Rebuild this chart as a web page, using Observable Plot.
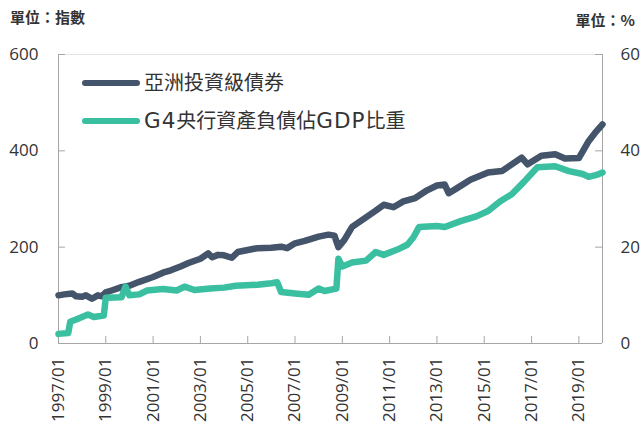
<!DOCTYPE html>
<html><head><meta charset="utf-8">
<script src="https://cdn.jsdelivr.net/npm/d3@7"></script>
<script src="https://cdn.jsdelivr.net/npm/@observablehq/plot@0.6"></script>
<style>
body{margin:0;background:#fff;font-family:"Open Sans","Noto Sans CJK TC",sans-serif;}
#wrap{position:relative;width:644px;height:430px;}
.unit{position:absolute;font-size:15px;font-weight:bold;color:#333;font-family:"Noto Sans CJK TC","Open Sans",sans-serif;line-height:1;}
.leg{position:absolute;left:82px;display:flex;align-items:center;font-size:20px;color:#333;line-height:1;font-family:"DejaVu Sans","Noto Sans CJK TC",sans-serif;}
.leg .lat{font-size:21.5px;letter-spacing:1px;}
.sw{width:58px;height:6px;border-radius:3px;margin-right:4px;}
</style></head>
<body><div id="wrap"></div>
<script>
// 亞洲投資級債券 (指數, 左軸)
const bondDates = ["1997-01","1997-04","1997-08","1997-10","1998-01","1998-03","1998-06","1998-09","1998-11","1999-01","1999-04","1999-09","2000-01","2000-06","2001-01","2001-06","2001-10","2002-03","2002-07","2003-01","2003-05","2003-07","2003-10","2004-01","2004-05","2004-08","2005-01","2005-06","2006-01","2006-06","2006-09","2007-01","2007-06","2008-01","2008-06","2008-09","2008-11","2009-02","2009-06","2010-01","2010-06","2010-10","2011-03","2011-08","2012-02","2012-08","2013-01","2013-05","2013-07","2013-11","2014-06","2015-03","2015-10","2016-03","2016-08","2016-11","2017-06","2018-01","2018-06","2019-01","2019-06","2019-09","2020-01"];
const bondValues = [100,102,104,98,97,100,93,100,98,106,110,117,120,128,138,147,152,160,167,176,187,179,184,183,178,190,194,198,199,201,198,208,213,222,226,224,200,215,242,262,276,288,283,295,302,318,328,330,312,322,340,355,358,372,386,372,390,393,384,385,420,436,455];
// G4央行資產負債佔GDP比重 (%, 右軸)
const ratioDates = ["1997-01","1997-06","1997-07","1997-10","1998-04","1998-07","1998-12","1999-01","1999-09","1999-11","2000-01","2000-06","2000-10","2001-06","2002-01","2002-05","2002-10","2003-06","2004-01","2004-07","2005-06","2006-01","2006-04","2006-06","2007-01","2007-08","2008-01","2008-04","2008-10","2008-11","2009-01","2009-06","2010-01","2010-06","2010-10","2011-05","2011-10","2012-01","2012-04","2013-01","2013-05","2014-01","2014-09","2015-03","2015-09","2016-03","2016-09","2017-04","2018-01","2018-08","2019-03","2019-06","2019-10","2020-01"];
const ratioValues = [2.0,2.2,4.5,5.0,6.0,5.5,5.8,9.5,9.6,11.8,10.0,10.2,11.0,11.3,11.0,11.8,11.1,11.4,11.6,12.0,12.2,12.5,12.7,10.7,10.4,10.1,11.4,10.9,11.4,17.6,16.0,16.8,17.2,19.0,18.4,19.5,20.5,22.0,24.2,24.4,24.2,25.4,26.4,27.5,29.5,31.0,33.5,36.6,36.8,35.8,35.2,34.6,35.0,35.5];
const leftTicks = [0,200,400,600];
const rightTicks = [0,20,40,60];
const xTickLabels = ["1997/01","1999/01","2001/01","2003/01","2005/01","2007/01","2009/01","2011/01","2013/01","2015/01","2017/01","2019/01"];
const xStart = "1997-01", xEnd = "2020-01";

const parse = d3.utcParse("%Y-%m");
const parseTick = d3.utcParse("%Y/%m");
const bond = bondDates.map((d,i)=>({date:parse(d), v:bondValues[i]}));
const ratio = ratioDates.map((d,i)=>({date:parse(d), v:ratioValues[i]}));
const xTicks = xTickLabels.map(parseTick);

const W=644,H=430,mt=54,mr=42,mb=87,ml=58;
const pw=W-ml-mr, ph=H-mt-mb;
const axisGray="#a6a6a6";

const chart = Plot.plot({
  width:W, height:H, marginTop:mt, marginRight:mr, marginBottom:mb, marginLeft:ml,
  style:{fontFamily:"'Open Sans','Noto Sans CJK TC',sans-serif", fontSize:"17px", color:"#333", background:"#fff"},
  x:{type:"utc", domain:[parse(xStart), parse(xEnd)]},
  y:{domain:[0,600]},
  marks:[
    Plot.ruleY([600],{stroke:"#e4e4e4"}),
    Plot.ruleY([0],{stroke:axisGray}),
    Plot.ruleX([parse(xStart), parse(xEnd)],{stroke:axisGray}),
    Plot.tickY(leftTicks,{y:d=>d, stroke:axisGray, insetRight:pw-7}),
    Plot.tickY(rightTicks.map(v=>v*10),{y:d=>d, stroke:axisGray, insetLeft:pw-7}),
    Plot.tickX(xTicks,{x:d=>d, stroke:axisGray, insetTop:ph-7}),
    Plot.axisY({anchor:"left", ticks:leftTicks, tickSize:0, tickPadding:20, label:null}),
    Plot.axisY({anchor:"right", ticks:rightTicks.map(v=>v*10), tickFormat:d=>d/10, tickSize:0, tickPadding:18, label:null}),
    Plot.axisX({ticks:xTicks, tickFormat:d3.utcFormat("%Y/%m"), tickRotate:-90, tickSize:0, tickPadding:14, label:null}),
    Plot.line(bond,{x:"date", y:"v", stroke:"#44546a", strokeWidth:6.5, strokeLinejoin:"round", strokeLinecap:"round"}),
    Plot.line(ratio,{x:"date", y:d=>d.v*10, stroke:"#3bbfa1", strokeWidth:6.5, strokeLinejoin:"round", strokeLinecap:"round"})
  ]
});
const wrap=document.getElementById("wrap");
wrap.appendChild(chart);
const html = `
<div class="unit" style="left:10px;top:9px;">單位：指數</div>
<div class="unit" style="right:9px;top:12px;">單位：%</div>
<div class="leg" style="top:73px;"><span class="sw" style="background:#44546a"></span>亞洲投資級債券</div>
<div class="leg" style="top:110px;"><span class="sw" style="background:#3bbfa1"></span><span class="lat">G4</span>央行資產負債佔<span class="lat">GDP</span>比重</div>`;
wrap.insertAdjacentHTML("beforeend", html);
</script>
</body></html>
